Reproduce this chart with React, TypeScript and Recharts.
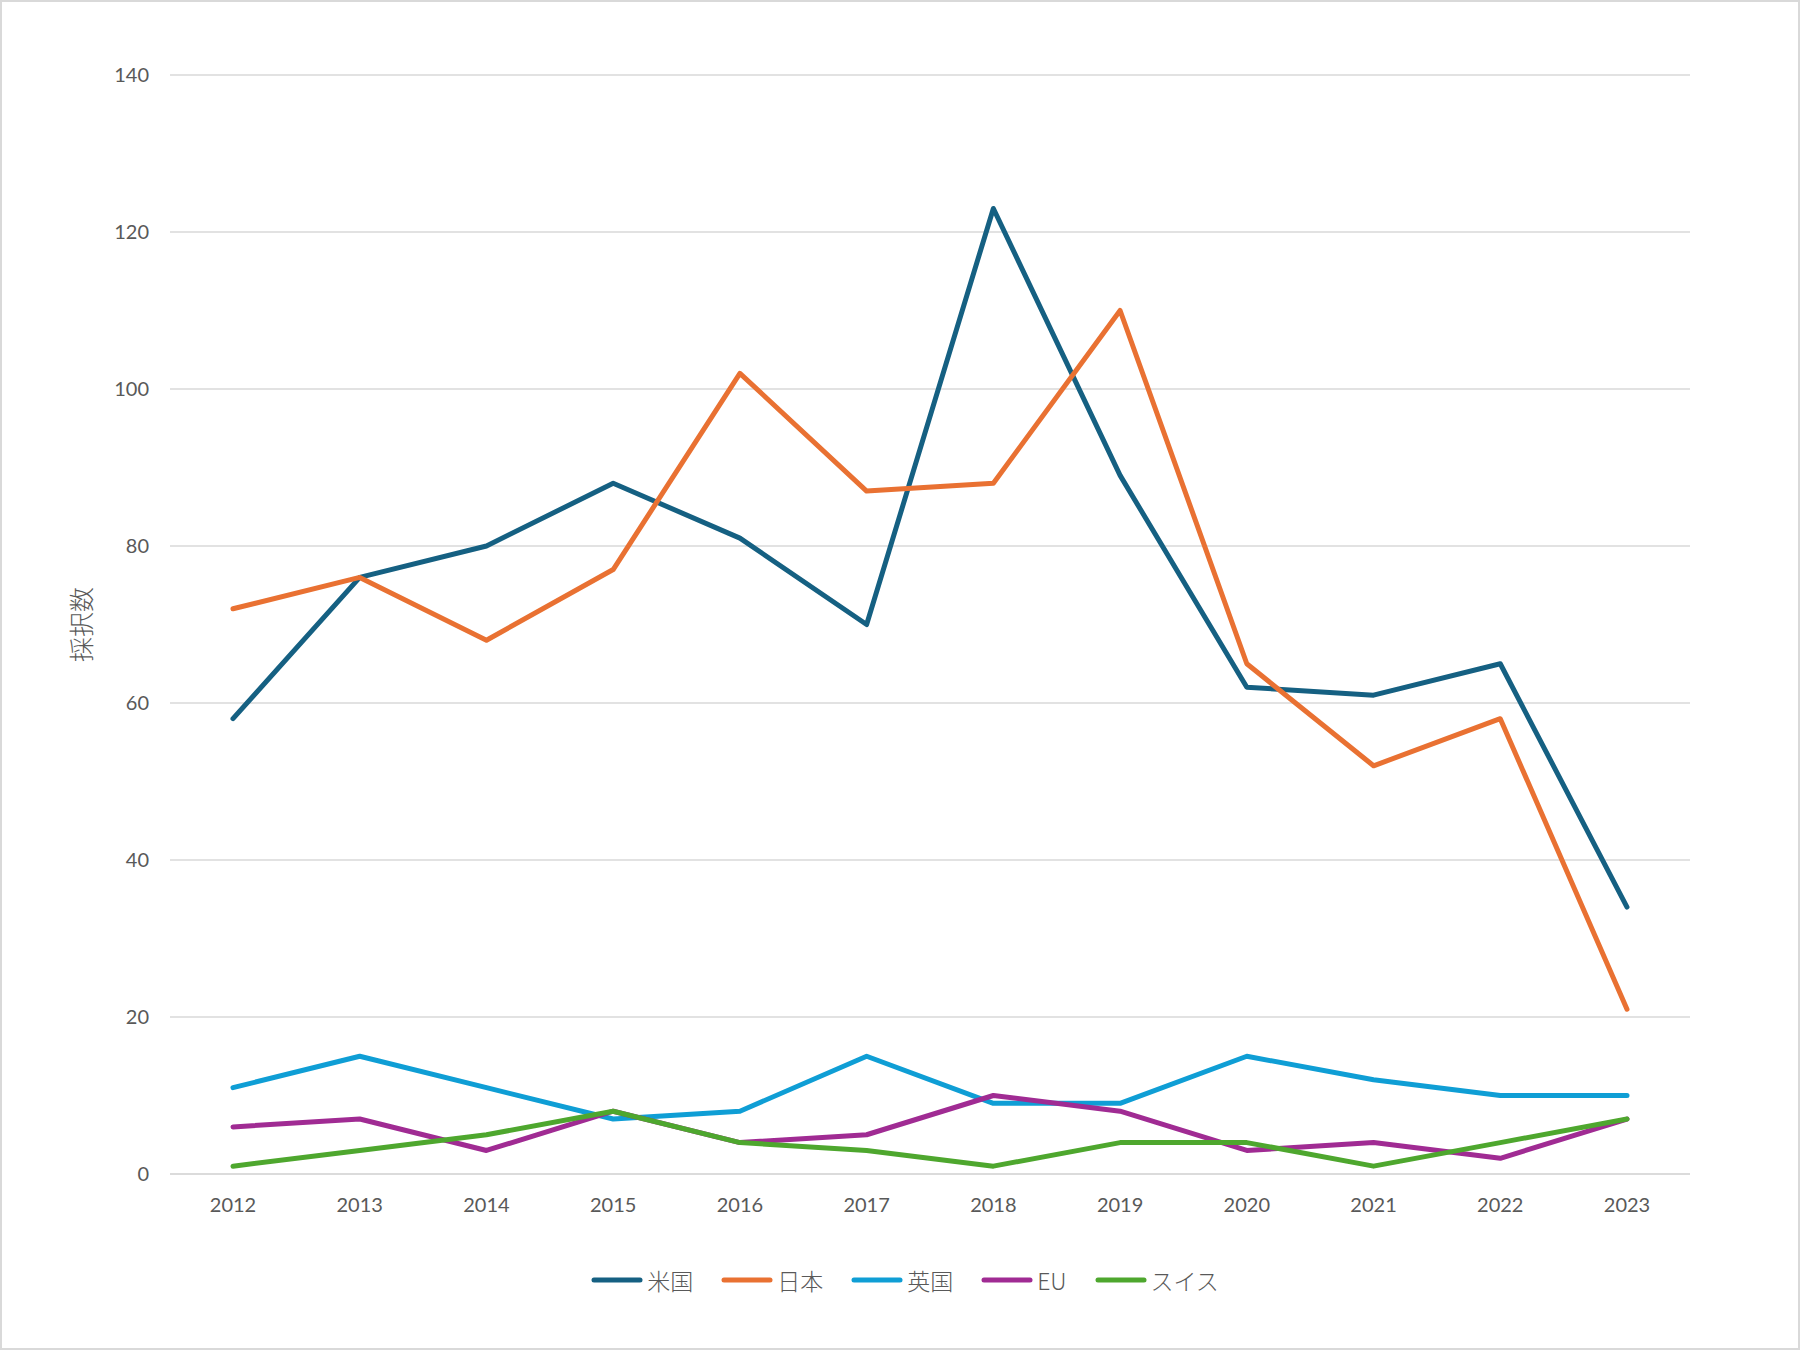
import { CartesianGrid, Legend, Line, LineChart, XAxis, YAxis } from 'recharts'

const years = ['2012', '2013', '2014', '2015', '2016', '2017', '2018', '2019', '2020', '2021', '2022', '2023']
const usValues = [58, 76, 80, 88, 81, 70, 123, 89, 62, 61, 65, 34]
const japanValues = [72, 76, 68, 77, 102, 87, 88, 110, 65, 52, 58, 21]
const ukValues = [11, 15, 11, 7, 8, 15, 9, 9, 15, 12, 10, 10]
const euValues = [6, 7, 3, 8, 4, 5, 10, 8, 3, 4, 2, 7]
const swissValues = [1, 3, 5, 8, 4, 3, 1, 4, 4, 1, 4, 7]
const yTicks = [0, 20, 40, 60, 80, 100, 120, 140]

const seriesList = [
  { key: 'us', name: '米国', color: '#156082', values: usValues },
  { key: 'japan', name: '日本', color: '#E97132', values: japanValues },
  { key: 'uk', name: '英国', color: '#0F9ED5', values: ukValues },
  { key: 'eu', name: 'EU', color: '#A02B93', values: euValues },
  { key: 'swiss', name: 'スイス', color: '#4EA72E', values: swissValues },
]

const chartData = years.map((year, i) => {
  const row: Record<string, string | number> = { year }
  seriesList.forEach(s => {
    row[s.key] = s.values[i]
  })
  return row
})

const fontFamily = "Lato, 'Noto Sans CJK JP', sans-serif"
const cjkFont = "'Noto Sans CJK JP', sans-serif"
const textColor = '#595959'

function ChartLegend() {
  return (
    <div
      style={{
        display: 'flex',
        justifyContent: 'center',
        alignItems: 'center',
        height: 36,
        paddingLeft: 10,
        fontFamily: cjkFont,
        fontWeight: 300,
        fontSize: 23,
        color: textColor,
      }}
    >
      {seriesList.map((s, i) => (
        <div
          key={s.key}
          style={{ display: 'flex', alignItems: 'center', marginLeft: i === 0 ? 0 : 28 }}
        >
          <svg width={52} height={10} style={{ marginRight: 4 }}>
            <line x1={3} y1={5} x2={49} y2={5} stroke={s.color} strokeWidth={5} strokeLinecap="round" />
          </svg>
          <span>{s.name}</span>
        </div>
      ))}
    </div>
  )
}

function AxisTitle({ viewBox }: any) {
  const cx = viewBox.x + 80
  const cy = viewBox.y + viewBox.height / 2
  return (
    <text
      x={cx}
      y={cy}
      transform={`rotate(-90, ${cx}, ${cy})`}
      textAnchor="middle"
      dominantBaseline="central"
      fill={textColor}
      fontSize={25}
      fontWeight={300}
      fontFamily={cjkFont}
    >
      採択数
    </text>
  )
}

export default function App() {
  return (
    <div
      style={{
        position: 'absolute',
        left: 0,
        top: 0,
        width: 1800,
        height: 1350,
        background: '#ffffff',
        boxShadow: 'inset 0 0 0 2px #d9d9d9',
      }}
    >
      <LineChart width={1800} height={1350} data={chartData} margin={{ top: 75, right: 110, bottom: 0, left: 0 }}>
        <CartesianGrid vertical={false} stroke="#d9d9d9" strokeWidth={1.5} />
        <XAxis
          dataKey="year"
          height={96}
          padding={{ left: 63, right: 63 }}
          axisLine={{ stroke: '#d9d9d9', strokeWidth: 1.5 }}
          tickLine={false}
          tickSize={0}
          tickMargin={24}
          tick={{ fill: textColor, fontSize: 20, fontFamily }}
        />
        <YAxis
          width={170}
          domain={[0, 140]}
          ticks={yTicks}
          axisLine={false}
          tickLine={false}
          tickSize={0}
          tickMargin={21}
          tick={{ fill: textColor, fontSize: 20, fontFamily }}
          label={<AxisTitle />}
        />
        <Legend
          verticalAlign="bottom"
          height={80}
          wrapperStyle={{ left: 0, width: 1800, top: 1262 }}
          content={() => <ChartLegend />}
        />
        {seriesList.map(s => (
          <Line
            key={s.key}
            dataKey={s.key}
            name={s.name}
            stroke={s.color}
            strokeWidth={5}
            strokeLinecap="round"
            strokeLinejoin="round"
            dot={false}
            activeDot={false}
            isAnimationActive={false}
          />
        ))}
      </LineChart>
    </div>
  )
}
